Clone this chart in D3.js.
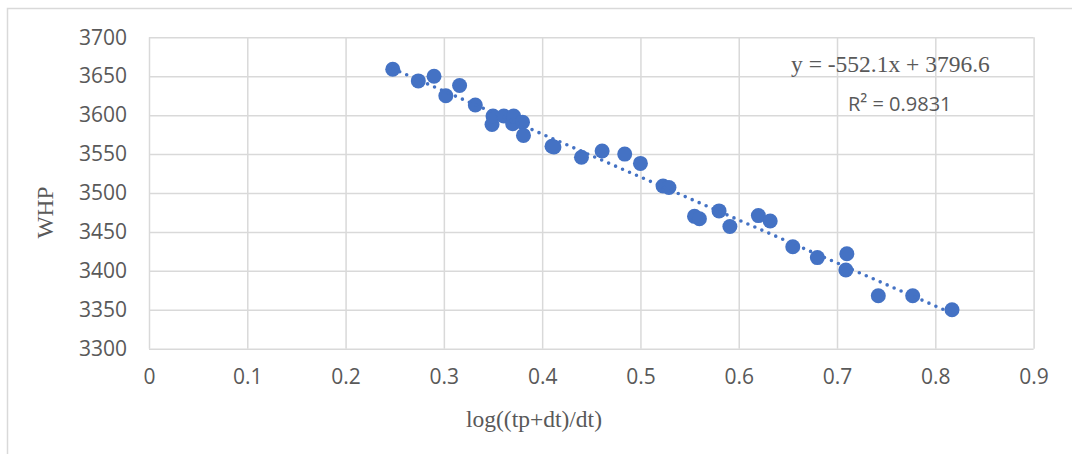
<!DOCTYPE html>
<html lang="en">
<head>
    <meta charset="UTF-8">
    <title>WHP vs log((tp+dt)/dt)</title>
    <script src="https://d3js.org/d3.v7.js"></script>
    <style>
        body { margin: 0; background: #fff; }
    </style>
</head>
<body>
<svg></svg>
<script>
    // data
    let logTime = [0.248, 0.274, 0.290, 0.302, 0.316, 0.332, 0.349, 0.350, 0.361, 0.370, 0.371, 0.380,
        0.381, 0.410, 0.412, 0.440, 0.461, 0.484, 0.500, 0.523, 0.529, 0.555, 0.560, 0.580, 0.591,
        0.620, 0.632, 0.655, 0.680, 0.709, 0.710, 0.742, 0.777, 0.817];
    let whp = [3659, 3644, 3650, 3625, 3638, 3613, 3588, 3599, 3599, 3589, 3599, 3591,
        3574, 3560, 3559, 3546, 3554, 3550, 3538, 3509, 3507, 3470, 3467, 3477, 3457,
        3471, 3464, 3431, 3417, 3401, 3422, 3368, 3368, 3350];
    let xTicks = [0, 0.1, 0.2, 0.3, 0.4, 0.5, 0.6, 0.7, 0.8, 0.9];
    let yTicks = [3300, 3350, 3400, 3450, 3500, 3550, 3600, 3650, 3700];
    let slope = -552.1;
    let intercept = 3796.6;
    let equationLabel = "y = -552.1x + 3796.6";
    let r2Label = "R\u00b2 = 0.9831";

    let width = 1072;
    let height = 454;
    let svg = d3.select("svg").attr("width", width).attr("height", height);

    let plotLeft = 149, plotRight = 1033.6, plotTop = 37.3, plotBottom = 348.7;
    let gridColor = "#d9d9d9";
    let textColor = "#595959";
    let blue = "#4472c4";

    // chart frame (only top and left edges show in the picture)
    svg.append("path")
        .attr("d", `M7.5,${height} V8.5 H${width}`)
        .attr("fill", "none")
        .attr("stroke", gridColor)
        .attr("stroke-width", 1.5);

    let xScale = d3.scaleLinear().domain([0, 0.9]).range([plotLeft, plotRight]);
    let yScale = d3.scaleLinear().domain([3300, 3700]).range([plotBottom, plotTop]);

    // gridlines via axes
    let xGrid = d3.axisBottom(xScale).tickValues(xTicks).tickSize(-(plotBottom - plotTop)).tickFormat("");
    let yGrid = d3.axisLeft(yScale).tickValues(yTicks).tickSize(-(plotRight - plotLeft)).tickFormat("");

    svg.append("g").attr("transform", `translate(0,${plotBottom})`).call(xGrid)
        .call(g => g.select(".domain").remove())
        .selectAll("line").attr("stroke", gridColor).attr("stroke-width", 1.5);
    svg.append("g").attr("transform", `translate(${plotLeft},0)`).call(yGrid)
        .call(g => g.select(".domain").remove())
        .selectAll("line").attr("stroke", gridColor).attr("stroke-width", 1.5);

    // tick labels
    let xAxis = d3.axisBottom(xScale).tickValues(xTicks).tickSize(0).tickPadding(20).tickFormat(d => d3.format("")(d));
    let yAxis = d3.axisLeft(yScale).tickValues(yTicks).tickSize(0).tickPadding(22).tickFormat(d3.format("d"));

    let gx = svg.append("g").attr("transform", `translate(0,${plotBottom})`).call(xAxis);
    let gy = svg.append("g").attr("transform", `translate(${plotLeft},0)`).call(yAxis);
    [gx, gy].forEach(g => {
        g.select(".domain").remove();
        g.selectAll("text")
            .attr("fill", textColor)
            .style("font-family", "'Open Sans', sans-serif")
            .style("font-size", "21px");
    });

    // trendline (dotted)
    let xMin = d3.min(logTime), xMax = d3.max(logTime);
    let trend = [xMin, xMax].map(x => [x, slope * x + intercept]);
    let line = d3.line().x(d => xScale(d[0])).y(d => yScale(d[1]));

    // points
    svg.append("g").selectAll("circle")
        .data(logTime.map((x, i) => [x, whp[i]]))
        .join("circle")
        .attr("cx", d => xScale(d[0]))
        .attr("cy", d => yScale(d[1]))
        .attr("r", 7.5)
        .attr("fill", blue);

    svg.append("path")
        .datum(trend)
        .attr("d", line)
        .attr("fill", "none")
        .attr("stroke", blue)
        .attr("stroke-width", 3.6)
        .attr("stroke-linecap", "round")
        .attr("stroke-dasharray", "0 7.6");

    // equation and R squared
    svg.append("text")
        .attr("x", 791)
        .attr("y", 72)
        .attr("fill", textColor)
        .style("font-family", "'Liberation Serif', 'Times New Roman', serif")
        .style("font-size", "23.5px")
        .text(equationLabel);
    svg.append("text")
        .attr("x", 848)
        .attr("y", 111)
        .attr("fill", textColor)
        .style("font-family", "'Open Sans', sans-serif")
        .style("font-size", "20px")
        .text(r2Label);

    // axis titles
    svg.append("text")
        .attr("x", 534)
        .attr("y", 427)
        .attr("text-anchor", "middle")
        .attr("fill", textColor)
        .style("font-family", "'Liberation Serif', 'Times New Roman', serif")
        .style("font-size", "23.5px")
        .text("log((tp+dt)/dt)");
    svg.append("text")
        .attr("transform", "translate(53,212.5) rotate(-90)")
        .attr("text-anchor", "middle")
        .attr("fill", textColor)
        .style("font-family", "'Liberation Serif', 'Times New Roman', serif")
        .style("font-size", "23.5px")
        .text("WHP");
</script>
</body>
</html>
